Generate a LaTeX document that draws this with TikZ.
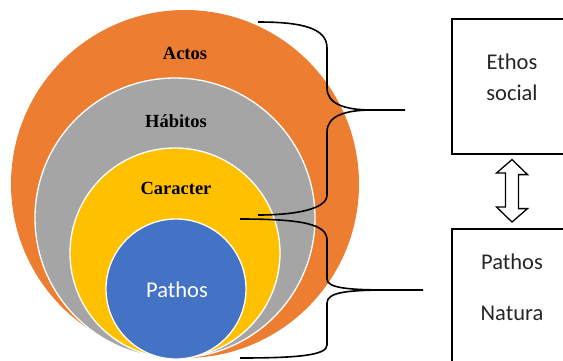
\documentclass[tikz,border=0pt]{standalone}
\usepackage{fontspec}
\usetikzlibrary{calc}
\setmainfont{Liberation Serif}
\newfontfamily\calibri{Carlito}
\definecolor{cOrange}{HTML}{ED7D31}
\definecolor{cGray}{HTML}{A5A5A5}
\definecolor{cYellow}{HTML}{FFC000}
\definecolor{cBlue}{HTML}{4472C4}
\tikzset{
  ring/.style={draw=white, line width=1.3pt},
  layerlabel/.style={font=\fontsize{18.5}{20}\selectfont\bfseries, text=black, inner sep=0pt},
  boxtext/.style={font=\calibri\fontsize{22.5}{27}\selectfont, text=black!85, inner sep=0pt, align=center},
  bracket/.style={draw=black, line width=1.6pt, line join=round},
  framebox/.style={draw=black, line width=1.6pt, inner sep=0pt},
  dblarrow/.style={draw=black, line width=1.3pt, fill=white, line join=miter}
}
\begin{document}
\begin{tikzpicture}[x=1pt, y=-1pt]
\useasboundingbox (0,0) rectangle (563,360);
% concentric layers
\fill[cOrange] (185,184) circle (174);
\draw[ring, fill=cGray] (175,218) circle (140);
\draw[ring, fill=cYellow] (175,253) circle (105);
\draw[ring, fill=cBlue] (176,289) circle (70);
\node[layerlabel] (actos) at (185,53) {Actos};
\node[layerlabel] (habitos) at (176,121) {Hábitos};
\node[layerlabel] (caracter) at (176,188) {Caracter};
\node[boxtext, text=white] (pathosin) at (177,290) {Pathos};
% boxes (right side clipped by the page)
\node[framebox, minimum width=150pt, minimum height=135pt, anchor=north west] (ethosbox) at (451,18) {};
\node[framebox, minimum width=150pt, minimum height=180pt, anchor=north west] (pathosbox) at (451,228) {};
\node[boxtext] (ethos) at (512,62) {Ethos};
\node[boxtext] (social) at (512,93) {social};
\node[boxtext] (pathos) at (512,262) {Pathos};
\node[boxtext] (natura) at (512,313) {Natura};
% brace coordinates
\coordinate (b1s) at (258,22);
\coordinate (b1t) at (405,110);
\coordinate (b1e) at (258,215);
\coordinate (b2s) at (240,219);
\coordinate (b2t) at (423,290);
\coordinate (b2e) at (240,358);
\draw[bracket] (b1s) .. controls (302,22) and (327,28) .. (327,48) -- (327,88)
  .. controls (327,104) and (345,110) .. (372,110) -- (b1t);
\draw[bracket] (372,110) .. controls (345,110) and (327,116) .. (327,132) -- (327,195)
  .. controls (327,210) and (292,215) .. (b1e);
\draw[bracket] (b2s) .. controls (302,219) and (327,224) .. (327,240) -- (327,279)
  .. controls (327,288) and (348,290) .. (390,290) -- (b2t);
\draw[bracket] (390,290) .. controls (348,290) and (327,292) .. (327,303) -- (327,345)
  .. controls (327,355) and (300,358) .. (b2e);
% double arrow between boxes
\coordinate (atop) at ($(ethosbox.south west)+(61,5)$);
\coordinate (abot) at ($(pathosbox.north west)+(61,-6)$);
\draw[dblarrow] (atop) -- ++(15.5,15) -- ++(-9,0) -- ++(0,34) -- ++(9,0) -- (abot)
  -- ++(-15.5,-15) -- ++(9,0) -- ++(0,-34) -- ++(-9,0) -- cycle;
\end{tikzpicture}
\end{document}
